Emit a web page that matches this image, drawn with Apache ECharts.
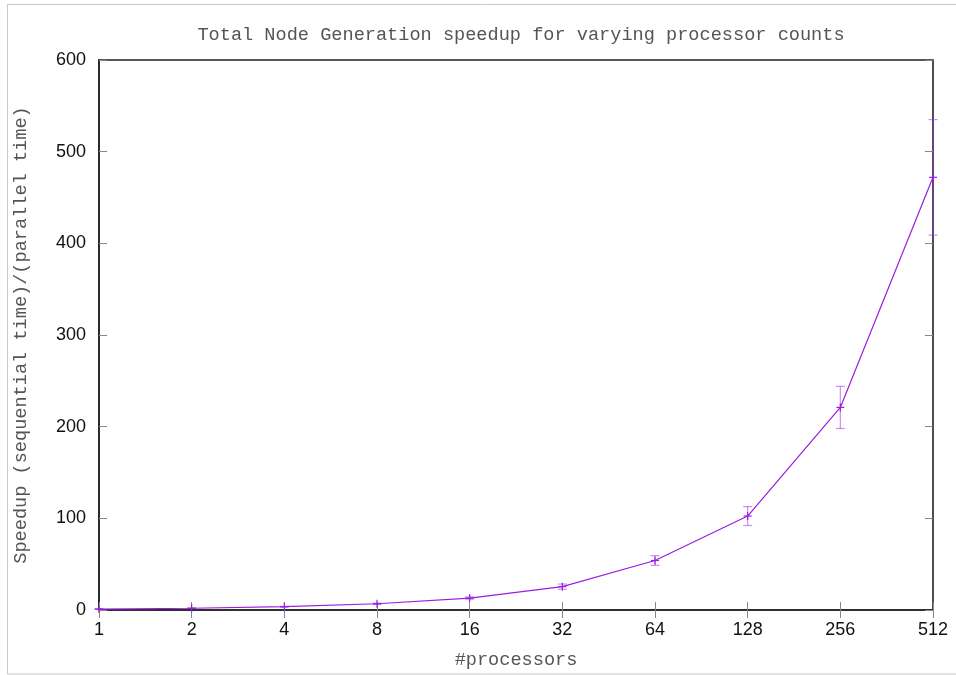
<!DOCTYPE html>
<html>
<head>
<meta charset="utf-8">
<script src="https://cdn.jsdelivr.net/npm/echarts@6/dist/echarts.min.js"></script>
<style>
html,body{margin:0;padding:0;background:#fff;}
#c{width:956px;height:675px;}
</style>
</head>
<body>
<div id="c"></div>
<script>
const processors = [1, 2, 4, 8, 16, 32, 64, 128, 256, 512];
const speedup    = [1, 1.9, 3.6, 6.8, 13, 25.5, 54, 102.5, 221, 472];
const errLow     = [0.95, 1.8, 3.3, 6.2, 11.8, 22.7, 48.7, 92.2, 198, 409];
const errHigh    = [1.05, 2.0, 3.9, 7.4, 14.2, 28.3, 59.3, 112.8, 244, 535];
const yTicks     = [0, 100, 200, 300, 400, 500, 600];

const lineColor = '#9a1ee0';
const errColor = 'rgba(160,50,230,0.55)';
const monoFont = '"Liberation Mono", "DejaVu Sans Mono", monospace';
const sansFont = '"Liberation Sans", Arial, sans-serif';

const lineData = processors.map((p, i) => [p, speedup[i]]);
const errData = processors.map((p, i) => [p, errLow[i], errHigh[i], speedup[i]]);

const chart = echarts.init(document.getElementById('c'), null, {renderer: 'canvas'});

const xBase = {
  type: 'log', logBase: 2, min: 1, max: 512,
  splitLine: {show: false}, minorTick: {show: false}
};
const yBase = {
  type: 'value', min: yTicks[0], max: yTicks[yTicks.length - 1], interval: 100,
  splitLine: {show: false}
};

chart.setOption({
  animation: false,
  backgroundColor: '#fff',
  title: {
    text: 'Total Node Generation speedup for varying processor counts',
    left: 516, top: 21, textAlign: 'center',
    textStyle: {fontFamily: monoFont, fontSize: 18.6, fontWeight: 'normal', color: '#555'}
  },
  graphic: [{
    type: 'rect', silent: true, z: -10,
    shape: {x: 7.5, y: 4.5, width: 980, height: 669.5},
    style: {fill: null, stroke: '#c8c8c8', lineWidth: 1}
  }],
  grid: {
    left: 99, right: 23, top: 60, bottom: 59,
    show: true, borderColor: '#222', borderWidth: 1.6, backgroundColor: 'transparent'
  },
  xAxis: [
    Object.assign({}, xBase, {
      position: 'bottom',
      name: '#processors', nameLocation: 'middle', nameGap: 41,
      nameTextStyle: {fontFamily: monoFont, fontSize: 18.6, color: '#555'},
      axisLine: {show: true, lineStyle: {color: '#222', width: 1.6}},
      axisTick: {show: true, inside: true, length: 8, lineStyle: {color: '#888', width: 1}},
      axisLabel: {show: true, margin: 11, fontFamily: sansFont, fontSize: 18, color: '#111',
        formatter: v => String(Math.round(v))}
    }),
    Object.assign({}, xBase, {
      position: 'top',
      axisLine: {show: false},
      axisTick: {show: true, inside: true, length: 8, lineStyle: {color: '#888', width: 1}},
      axisLabel: {show: false}
    })
  ],
  yAxis: [
    Object.assign({}, yBase, {
      position: 'left',
      name: 'Speedup (sequential time)/(parallel time)', nameLocation: 'middle', nameGap: 68,
      nameTextStyle: {fontFamily: monoFont, fontSize: 18.6, color: '#555'},
      axisLine: {show: true, lineStyle: {color: '#222', width: 1.6}},
      axisTick: {show: true, inside: true, length: 8, lineStyle: {color: '#888', width: 1}},
      axisLabel: {show: true, margin: 13, fontFamily: sansFont, fontSize: 18, color: '#111'}
    }),
    Object.assign({}, yBase, {
      position: 'right',
      axisLine: {show: false},
      axisTick: {show: true, inside: true, length: 8, lineStyle: {color: '#888', width: 1}},
      axisLabel: {show: false}
    })
  ],
  series: [
    {
      type: 'line', data: lineData, xAxisIndex: 0, yAxisIndex: 0,
      showSymbol: false, lineStyle: {color: lineColor, width: 1.2}, z: 3
    },
    {
      type: 'custom', data: errData, xAxisIndex: 0, yAxisIndex: 0, z: 4,
      clip: false,
      renderItem: function (params, api) {
        const x = api.value(0);
        const lo = api.coord([x, api.value(1)]);
        const hi = api.coord([x, api.value(2)]);
        const mid = api.coord([x, api.value(3)]);
        const cw = 4.5, pw = 4;
        return {
          type: 'group',
          children: [
            {type: 'line', shape: {x1: lo[0], y1: lo[1], x2: hi[0], y2: hi[1]},
              style: {stroke: errColor, lineWidth: 1.2}},
            {type: 'line', shape: {x1: lo[0] - cw, y1: lo[1], x2: lo[0] + cw, y2: lo[1]},
              style: {stroke: errColor, lineWidth: 1.2}},
            {type: 'line', shape: {x1: hi[0] - cw, y1: hi[1], x2: hi[0] + cw, y2: hi[1]},
              style: {stroke: errColor, lineWidth: 1.2}},
            {type: 'line', shape: {x1: mid[0] - pw, y1: mid[1], x2: mid[0] + pw, y2: mid[1]},
              style: {stroke: lineColor, lineWidth: 1.2}},
            {type: 'line', shape: {x1: mid[0], y1: mid[1] - pw, x2: mid[0], y2: mid[1] + pw},
              style: {stroke: lineColor, lineWidth: 1.2}}
          ]
        };
      }
    }
  ]
});
</script>
</body>
</html>
